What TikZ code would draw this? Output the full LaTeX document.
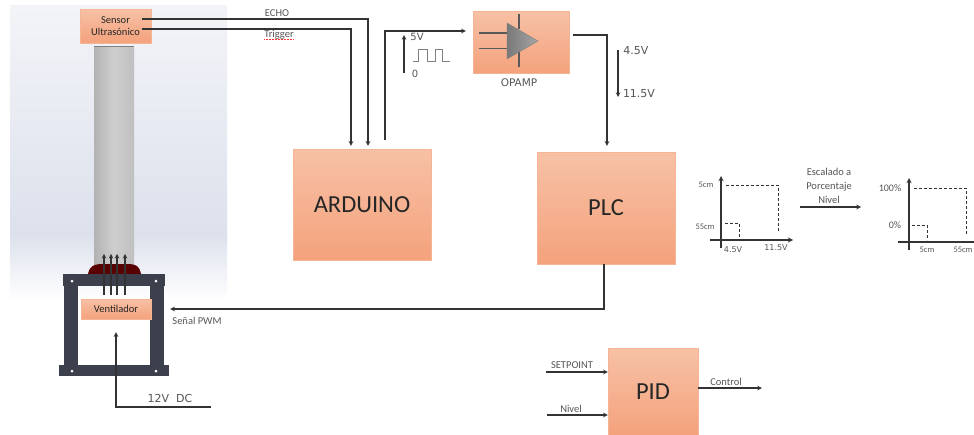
\documentclass[tikz,border=0pt]{standalone}
\usepackage{fontspec}
\setmainfont{Carlito}
\newfontfamily\widefont{DejaVu Sans}
\usepackage{xcolor}
\usetikzlibrary{
  positioning,
  arrows.meta,
  calc
}
\definecolor{boxtop}{HTML}{F7C1A6}
\definecolor{boxbottom}{HTML}{F4A27C}
\definecolor{boxline}{HTML}{F5B594}
\definecolor{framegray}{HTML}{3C404C}
\definecolor{wiregray}{HTML}{333333}
\definecolor{textgray}{HTML}{555555}
\definecolor{paneltop}{HTML}{F3F4F8}
\definecolor{panelmid}{HTML}{DCE1EC}

\begin{document}
\begin{tikzpicture}[x=1pt, y=-1pt, align=center, every node/.style={font=\fontsize{10.5}{12}\selectfont, text=textgray},
  block/.style={draw=boxline, rectangle, top color=boxtop, bottom color=boxbottom, inner sep=0pt, text=black!85},
  bigblock/.style={block, font=\fontsize{24.5}{28}\selectfont},
  tag/.style={inner sep=0pt},
  volt/.style={tag, font=\widefont\fontsize{11}{13}\selectfont},
  small/.style={tag, font=\fontsize{8.5}{10}\selectfont},
  arrow/.style={->, >=stealth, line width=1.1pt, draw=wiregray},
  wire/.style={line width=1.1pt, draw=black!65},
  axis/.style={->, >=stealth, line width=1.3pt, draw=wiregray},
  guide/.style={densely dashed, line width=0.8pt, draw=wiregray},
  spell/.style={red!80, line width=0.5pt, densely dotted}
]
\useasboundingbox (0,0) rectangle (974,434);

% Plant
\shade[top color=paneltop, bottom color=panelmid] (10,5) rectangle (227,235);
\shade[top color=panelmid, bottom color=white] (10,235) rectangle (227,300);
\shade[left color=gray!60, right color=gray!50, middle color=gray!38] (94,46) rectangle (134,270);
\draw[line width=1pt, gray] (94,46) -- (134,46);
\fill[red!35!black] (88,274) .. controls (90,265) and (94,265) .. (100,264) -- (130,264) .. controls (136,265) and (139,265) .. (141,274) -- cycle;
\fill[framegray] (63,274) rectangle (165,286);
\fill[framegray] (64,286) rectangle (78,365);
\fill[framegray] (150,286) rectangle (164,365);
\fill[framegray] (59,365) rectangle (169,376);
\foreach \x/\y in {72/281, 156/281, 72/371, 156/371}
  \fill[white] (\x,\y) circle (1.5);

% Nodes
\node[block, minimum width=71pt, minimum height=34pt] (sensor) at (115.5,26) {Sensor\\ Ultrasónico};
\node[block, minimum width=70pt, minimum height=20pt] (ventilador) at (116,309) {Ventilador};
\node[bigblock, minimum width=138pt, minimum height=111pt] (arduino) at (362,204.5) {ARDUINO};
\node[block, minimum width=96pt, minimum height=62pt] (opamp) at (521,42) {};
\node[bigblock, minimum width=138pt, minimum height=112pt] (plc) at (606,208) {PLC};
\node[bigblock, minimum width=90pt, minimum height=87pt, yshift=-1pt] (pid) at (653,390.5) {PID};

% Labels
\node[tag] (echo) at (277,13) {ECHO};
\node[tag] (trigger) at (279,35) {Trigger};
\node[tag, font=\widefont\fontsize{10.5}{12}\selectfont] (opamplabel) at (519,83) {OPAMP};
\node[volt, font=\widefont\fontsize{10}{12}\selectfont] (fivev) at (417,37) {5V};
\node[volt, font=\widefont\fontsize{10}{12}\selectfont] (zerov) at (415,74) {0};
\node[volt] (lowv) at (636,51) {4.5V};
\node[volt] (highv) at (639,94) {11.5V};
\node[tag] (pwm) at (197,321) {Señal PWM};
\node[volt] (dc) at (170,398) {12V\ \ DC};
\node[tag] (setpoint) at (572,365) {SETPOINT};
\node[tag] (nivel) at (571,409) {Nivel};
\node[tag] (control) at (726,382) {Control};
\node[tag, font=\fontsize{10.5}{14}\selectfont] (escalado) at (829,186) {Escalado a\\ Porcentaje\\ Nivel};
\draw[spell] (trigger.south west) -- (trigger.south east);

% Arrows
\coordinate (echoin) at (142,19);
\coordinate (trigin) at (142,29);
\draw[arrow] (echoin) -| ([xshift=6pt, yshift=3pt]arduino.north);
\draw[arrow] (trigin) -| ([xshift=-11pt, yshift=3pt]arduino.north);
\draw[arrow] ([xshift=23pt, yshift=9pt]arduino.north) |- ([xshift=-7pt, yshift=11pt]opamp.west);
\draw[arrow] ([xshift=4pt, yshift=7pt]opamp.east) -| ([xshift=1pt, yshift=6pt]plc.north);
\draw[arrow] ([xshift=-2pt]plc.south) |- ([xshift=19pt]ventilador.east);
\coordinate (dcin) at (211,407);
\draw[arrow] (dcin) -| ([yshift=-13pt]ventilador.south);
\foreach \dx in {-12,-5,1,9}
  \draw[arrow] ([shift={(\dx,-4)}]ventilador.north) -- ++(0,-41);

% Signal hints
\coordinate (fivea) at (404,73);
\coordinate (fiveb) at (404,35);
\draw[arrow] (fivea) -- (fiveb);
\draw[gray, line width=0.7pt] (413,61) -- (418,61) -- (418,49) -- (427,49) -- (427,61) -- (435,61) -- (435,49) -- (442,49) -- (442,61) -- (450,61);
\coordinate (lowa) at (618,50);
\coordinate (lowb) at (618,97);
\draw[arrow] (lowa) -- (lowb);

% Opamp
\draw[wire] (479,33) -- (507,33);
\draw[wire] (479,48.5) -- (507,48.5);
\draw[wire] (519,14) -- (519,29);
\draw[wire] (519,52) -- (519,67);
\shade[left color=gray!95!black, right color=gray!70, draw=black!50] (507,23) -- (538,41) -- (507,59) -- cycle;

% Setpoint and control
\coordinate (setin) at (546,372);
\coordinate (nivin) at (547,415);
\coordinate (ctrout) at (762,388);
\draw[arrow] (setin) -- (pid.west |- setin);
\draw[arrow] (nivin) -- (pid.west |- nivin);
\draw[arrow] (pid.east |- ctrout) -- (ctrout);

% First scale
\draw[axis] (721,248) -- (721,176);
\draw[axis] (710,240) -- (793,240);
\draw[guide] (726,185) -- (778,185) -- (778,232);
\draw[guide] (725,223) -- (739,223) -- (739,238);
\node[small] (cmhigh) at (706,185) {5cm};
\node[small] (cmlow) at (705,227) {55cm};
\node[volt, font=\widefont\fontsize{8}{10}\selectfont] (vlow) at (733,250) {4.5V};
\node[volt, font=\widefont\fontsize{8}{10}\selectfont] (vhigh) at (776,248) {11.5V};

% Scaling arrow
\coordinate (scalea) at (800,207);
\coordinate (scaleb) at (861,207);
\draw[arrow] (scalea) -- (scaleb);

% Second scale
\draw[axis] (909,250) -- (909,178);
\draw[line width=1.3pt, draw=wiregray] (898,242) -- (974,242);
\draw[guide] (914,188) -- (966,188) -- (966,234);
\draw[guide] (912,225) -- (927,225) -- (927,240);
\node[tag, font=\fontsize{10}{11}\selectfont] (pcthigh) at (890,188) {100\%};
\node[tag, font=\fontsize{10}{11}\selectfont] (pctlow) at (895,225) {0\%};
\node[small] (cmleft) at (927,250) {5cm};
\node[small] (cmright) at (963,250) {55cm};

\end{tikzpicture}
\end{document}
